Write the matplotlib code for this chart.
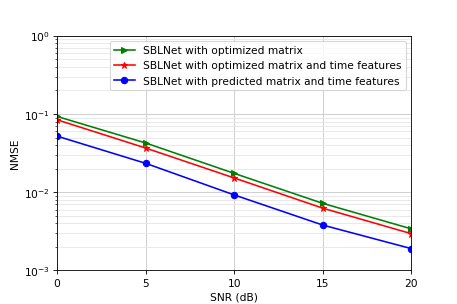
import numpy as np
import matplotlib.pyplot as plt

snr = [0, 5, 10, 15, 20]
nmse_opt = [0.093, 0.0426, 0.0174, 0.0072, 0.0034]
nmse_opt_time = [0.0843, 0.0367, 0.0152, 0.00625, 0.00295]
nmse_pred_time = [0.0521, 0.0234, 0.00923, 0.0038, 0.0019]

fig = plt.figure(figsize=(6, 4), dpi=76.2)
ax = fig.add_subplot(111)
ax.semilogy(snr, nmse_opt, 'g>-', label='SBLNet with optimized matrix')
ax.semilogy(snr, nmse_opt_time, 'r*-', label='SBLNet with optimized matrix and time features')
ax.semilogy(snr, nmse_pred_time, 'bo-', label='SBLNet with predicted matrix and time features')
ax.set_xlim(0, 20)
ax.set_ylim(1e-3, 1)
ax.set_xticks([0, 5, 10, 15, 20])
ax.grid(True, which='major', color='#c8c8c8', linewidth=0.8)
ax.grid(True, which='minor', color='#e6e6e6', linewidth=0.8)
ax.set_xlabel('SNR (dB)')
ax.set_ylabel('NMSE')
ax.legend(loc='upper right')
plt.savefig('out.png')
